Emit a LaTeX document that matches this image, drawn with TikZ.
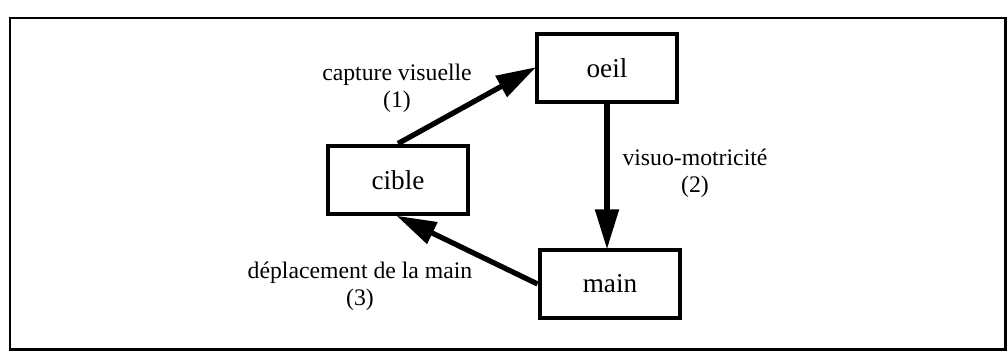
\documentclass[tikz,border=0pt]{standalone}
\usepackage{fontspec}
\setmainfont{Liberation Serif}
\usetikzlibrary{arrows.meta,positioning}

\tikzset{
  boite/.style={draw, line width=2.8pt, minimum width=2.8cm, minimum height=1.36cm, inner sep=0pt, font=\fontsize{15.5}{18}\selectfont},
  fleche/.style={line width=3pt, -{Triangle[length=8mm, width=4.6mm]}, shorten >=-1pt},
  etiq/.style={align=center, font=\fontsize{13.5}{15.5}\selectfont}
}

\begin{document}
\begin{tikzpicture}[x=0.02cm, y=-0.02cm]
		\useasboundingbox (0,0) rectangle (1008,356);
		\draw [line width=1.7pt] (10,18) rectangle (1005,349);
		% les trois boites
		\node [boite] (oeil) at (607,68) {oeil};
		\node [boite] (cible) at (398,180) {cible};
		\node [boite] (main) at (610,284) {main};
		% fleches
		\draw [fleche] (cible.north) -- (oeil.west);
		\draw [fleche] (oeil.south) -- (oeil.south |- main.north);
		\draw [fleche] (main.west) -- (cible.south);
		% etiquettes
		\node [etiq] (capture) at (397,88) {capture visuelle\\(1)};
		\node [etiq] (visuo) at (695,173) {visuo-motricité\\(2)};
		\node [etiq] (deplacement) at (360,286) {déplacement de la main\\(3)};
\end{tikzpicture}
\end{document}
